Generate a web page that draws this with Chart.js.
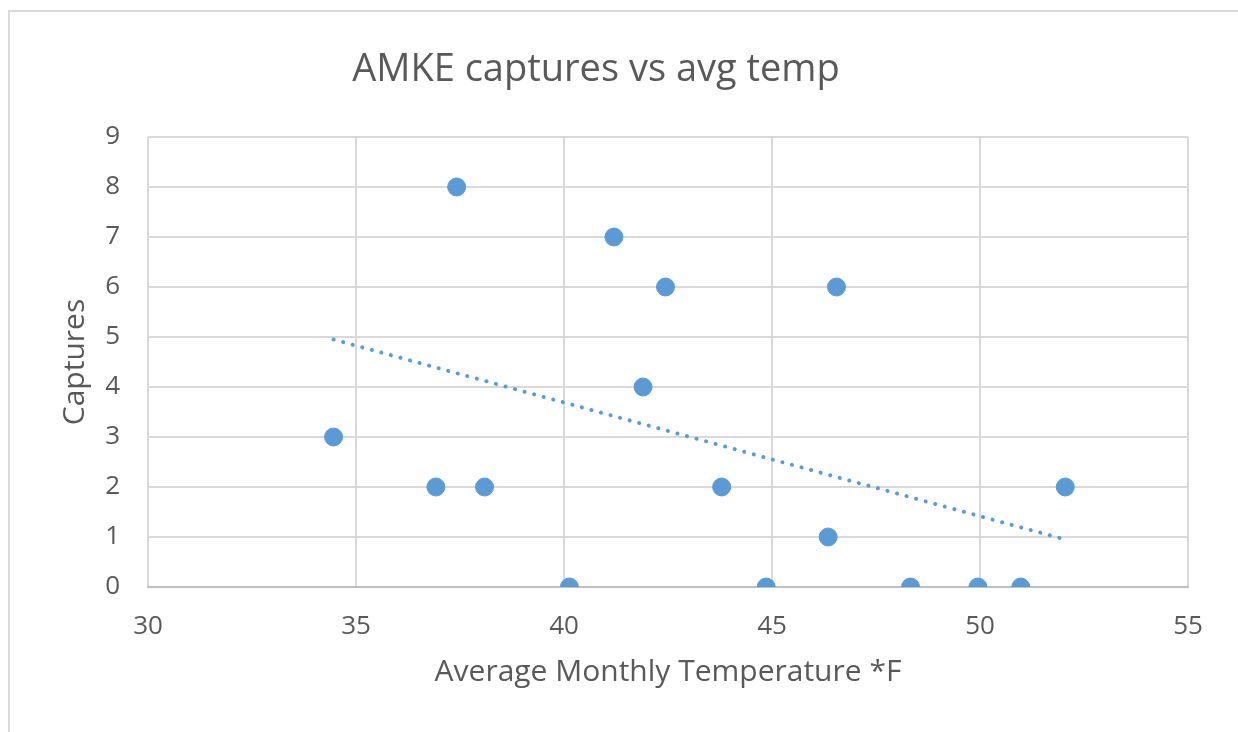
<!DOCTYPE html>
<html>
<head>
<meta charset="utf-8">
<title>AMKE captures vs avg temp</title>
<script src="https://cdn.jsdelivr.net/npm/chart.js@4.4.0/dist/chart.umd.min.js"></script>
<style>
  html, body { margin: 0; padding: 0; background: #fff; overflow: hidden; }
  #wrap { position: relative; width: 1238px; height: 732px; }
</style>
</head>
<body>
<div id="wrap"><canvas id="chart"></canvas></div>
<script>
// Average monthly temperature (*F) and AMKE captures
const temps    = [34.46, 36.92, 37.42, 38.09, 40.13, 41.2, 41.9, 42.44, 43.79, 44.86, 46.35, 46.55, 48.33, 49.95, 50.98, 52.05];
const captures = [3,     2,     8,     2,     0,     7,    4,    6,     2,     0,     1,     6,     0,     0,     0,     2];

// Linear trendline end points as drawn in the picture
const trendX = [34.46, 52.05];
const trendY = [4.95, 0.95];

const chartTitle = 'AMKE captures vs avg temp';
const xTitle = 'Average Monthly Temperature *F';
const yTitle = 'Captures';

const blue = '#5B9BD5';
const textColor = '#595959';
const gridColor = '#D9D9D9';
const fontFamily = '"Open Sans", "Noto Sans", sans-serif';

// Frame and title drawn by hand so the title can sit off-centre like the original
const framePlugin = {
  id: 'frame',
  beforeDraw(chart) {
    const ctx = chart.ctx;
    ctx.save();
    ctx.fillStyle = '#fff';
    ctx.fillRect(0, 0, chart.width, chart.height);
    ctx.strokeStyle = gridColor;
    ctx.lineWidth = 2;
    ctx.strokeRect(9, 11, chart.width + 20, chart.height + 20);
    ctx.restore();
  },
  afterDraw(chart) {
    const ctx = chart.ctx;
    ctx.save();
    ctx.fillStyle = textColor;
    ctx.font = '38px ' + fontFamily;
    ctx.textAlign = 'center';
    ctx.textBaseline = 'middle';
    ctx.fillText(chartTitle, 596, 70);
    ctx.restore();
  }
};

const ctx = document.getElementById('chart').getContext('2d');
new Chart(ctx, {
  type: 'scatter',
  data: {
    datasets: [
      {
        label: 'Captures',
        data: temps.map((t, i) => ({ x: t, y: captures[i] })),
        backgroundColor: blue,
        borderColor: blue,
        borderWidth: 1,
        pointRadius: 9,
        pointHoverRadius: 9,
        order: 1
      },
      {
        label: 'Linear (Captures)',
        type: 'line',
        data: trendX.map((t, i) => ({ x: t, y: trendY[i] })),
        borderColor: blue,
        borderWidth: 4,
        borderDash: [0.1, 9.8],
        borderCapStyle: 'round',
        pointRadius: 0,
        fill: false,
        order: 0
      }
    ]
  },
  options: {
    responsive: true,
    maintainAspectRatio: false,
    animation: false,
    layout: { padding: { top: 137, right: 50, left: 53, bottom: 38 } },
    plugins: {
      legend: { display: false },
      title: { display: false },
      tooltip: { enabled: false }
    },
    scales: {
      x: {
        type: 'linear',
        min: 30,
        max: 55,
        ticks: {
          stepSize: 5,
          color: textColor,
          padding: 24,
          font: { family: fontFamily, size: 26 }
        },
        grid: { color: gridColor, lineWidth: 2, drawTicks: false },
        border: { color: '#BFBFBF', width: 2 },
        title: {
          display: true,
          text: xTitle,
          color: textColor,
          font: { family: fontFamily, size: 30 }
        },
        afterFit(scale) { scale.height = 732 - 587 - 38; }
      },
      y: {
        min: 0,
        max: 9,
        ticks: {
          stepSize: 1,
          color: textColor,
          padding: 28,
          font: { family: fontFamily, size: 26 }
        },
        grid: { color: gridColor, lineWidth: 2, drawTicks: false },
        border: { display: false },
        title: {
          display: true,
          text: yTitle,
          color: textColor,
          font: { family: fontFamily, size: 30 }
        },
        afterFit(scale) { scale.width = 148 - 53; }
      }
    }
  },
  plugins: [framePlugin]
});
</script>
</body>
</html>
